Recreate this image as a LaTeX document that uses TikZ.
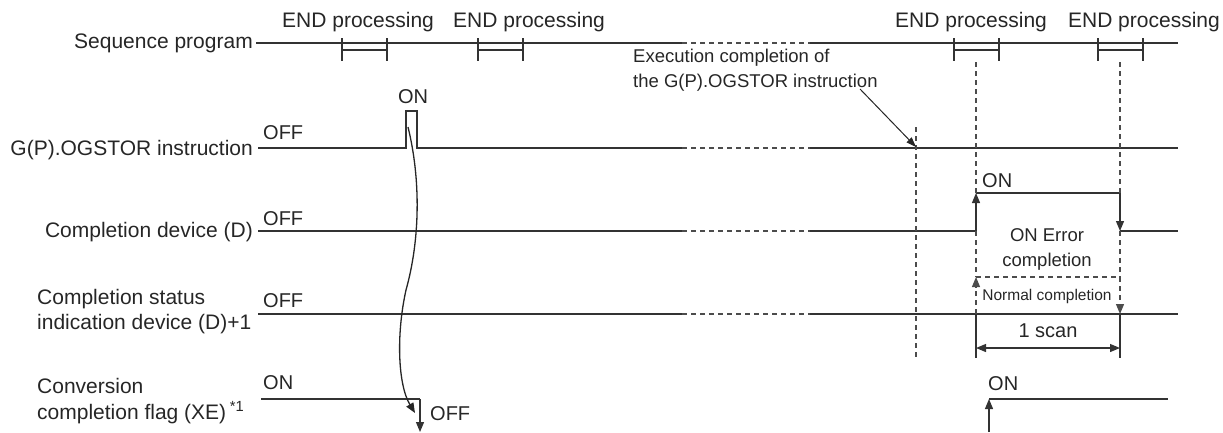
\documentclass[tikz,border=0pt]{standalone}
\usepackage{fontspec}
\setmainfont{Liberation Sans}
\usetikzlibrary{arrows.meta}
\begin{document}
\begin{tikzpicture}[x=1pt,y=-1pt,
  sig/.style={line width=1.2pt, draw=black!80},
  dsh/.style={line width=1.1pt, draw=black!70, dash pattern=on 5pt off 4pt},
  tip/.style={-{Triangle[length=10pt,width=8pt]}},
  dtip/.style={{Triangle[length=10pt,width=8pt]}-{Triangle[length=10pt,width=8pt]}},
  lbl/.style={inner sep=0pt, font=\fontsize{21}{25}\selectfont, text=black!85},
  st/.style={inner sep=0pt, font=\fontsize{20}{24}\selectfont, text=black!85},
  note/.style={inner sep=0pt, font=\fontsize{18.5}{25}\selectfont, text=black!85, align=left},
  tiny/.style={inner sep=0pt, font=\fontsize{15.5}{18}\selectfont, text=black!85}]
\useasboundingbox (0,0) rectangle (1223,432);

% ---- left labels
\node[lbl, anchor=east] (lseq) at (253,43) {Sequence program};
\node[lbl, anchor=east] (lg) at (253,150) {G(P).OGSTOR instruction};
\node[lbl, anchor=east] (ld) at (253,232) {Completion device (D)};
\node[lbl, anchor=west, align=left, font=\fontsize{21}{25}\selectfont] (ls) at (37,312) {Completion status\\indication device (D)+1};
\node[lbl, anchor=west, align=left, font=\fontsize{21}{26}\selectfont] (lf) at (37,401) {Conversion\\completion flag (XE)\,\textsuperscript{*1}};

% ---- END processing labels
\node[lbl, anchor=west] (e1) at (282,22) {END processing};
\node[lbl, anchor=west] (e2) at (453,22) {END processing};
\node[lbl, anchor=west] (e3) at (895,22) {END processing};
\node[lbl, anchor=east] (e4) at (1220,22) {END processing};

% ---- Sequence program line
\coordinate (s0) at (256,43);
\coordinate (s1) at (1178,43);
\draw[sig] (s0) -- (682,43);
\draw[dsh] (682,43) -- (810,43);
\draw[sig] (810,43) -- (s1);
\foreach \xl/\xr in {342/387, 478/523, 954/999, 1098/1143}{
  \draw[sig] (\xl,38) -- (\xl,61) (\xr,38) -- (\xr,61) (\xl,50) -- (\xr,50);
}

% ---- G(P).OGSTOR instruction
\node[st, anchor=west] (goff) at (263,133) {OFF};
\node[st] (gon) at (413,97) {ON};
\coordinate (pa) at (406,111);
\coordinate (pb) at (417,111);
\draw[sig] (258,148) -- (406,148) -- (pa) -- (pb) -- (417,148) -- (682,148);
\draw[dsh] (682,148) -- (810,148);
\draw[sig] (810,148) -- (1178,148);

% ---- Completion device (D)
\node[st, anchor=west] (doff) at (263,219) {OFF};
\node[st, anchor=west] (don) at (982,181) {ON};
\coordinate (d1) at (976,231);
\coordinate (d2) at (976,193);
\coordinate (d3) at (1120,193);
\coordinate (d4) at (1120,231);
\draw[sig] (258,231) -- (682,231);
\draw[dsh] (682,231) -- (810,231);
\draw[sig] (810,231) -- (d1);
\draw[sig,tip] (d1) -- (d2);
\draw[sig] (d2) -- (d3);
\draw[sig,tip] (d3) -- (d4);
\draw[sig] (d4) -- (1178,231);
\node[note, align=center] (err) at (1047,249) {ON Error\\completion};

% ---- Completion status
\node[st, anchor=west] (soff) at (263,301) {OFF};
\draw[sig] (258,314) -- (682,314);
\draw[dsh] (682,314) -- (810,314);
\draw[sig] (810,314) -- (1178,314);
\node[tiny] (norm) at (1047,296) {Normal completion};

% ---- dashed verticals
\draw[dsh] (916,127) -- (916,358);
\draw[dsh] (976,62) -- (d2);
\draw[dsh] (1120,62) -- (d3);
\draw[dsh] (d1) -- (976,277);
\draw[dsh] (d4) -- (1120,277);
\draw[dsh] (976,277) -- (1120,277);
\draw[dsh,tip] (976,314) -- (976,277);
\draw[dsh,tip] (1120,277) -- (1120,314);

% ---- 1 scan
\draw[sig] (976,314) -- (976,358);
\draw[sig] (1120,314) -- (1120,358);
\draw[sig,dtip] (976,348) -- (1120,348);
\node[st] (scan) at (1048,331) {1 scan};

% ---- Conversion completion flag
\node[st, anchor=west] (fon) at (263,383) {ON};
\node[st, anchor=west] (foff) at (430,414) {OFF};
\coordinate (f1) at (420,399);
\draw[sig] (261,399) -- (f1);
\draw[sig,tip] (f1) -- (420,432);
\node[st, anchor=west] (fon2) at (988,384) {ON};
\coordinate (f2) at (989,399);
\draw[sig,tip] (989,432) -- (f2);
\draw[sig] (f2) -- (1168,399);

% ---- causal curve
\draw[line width=1.3pt, draw=black!85, tip] (408,127) .. controls (421,180) and (420,240) .. (406,290) .. controls (396,335) and (398,385) .. (415,413);

% ---- execution completion annotation
\node[note, anchor=west] (exec) at (633,70) {Execution completion of\\the G(P).OGSTOR instruction};
\draw[line width=1pt, draw=black!85, -{Triangle[length=10pt,width=7pt]}] (860,89) -- (916,147);
\end{tikzpicture}
\end{document}
